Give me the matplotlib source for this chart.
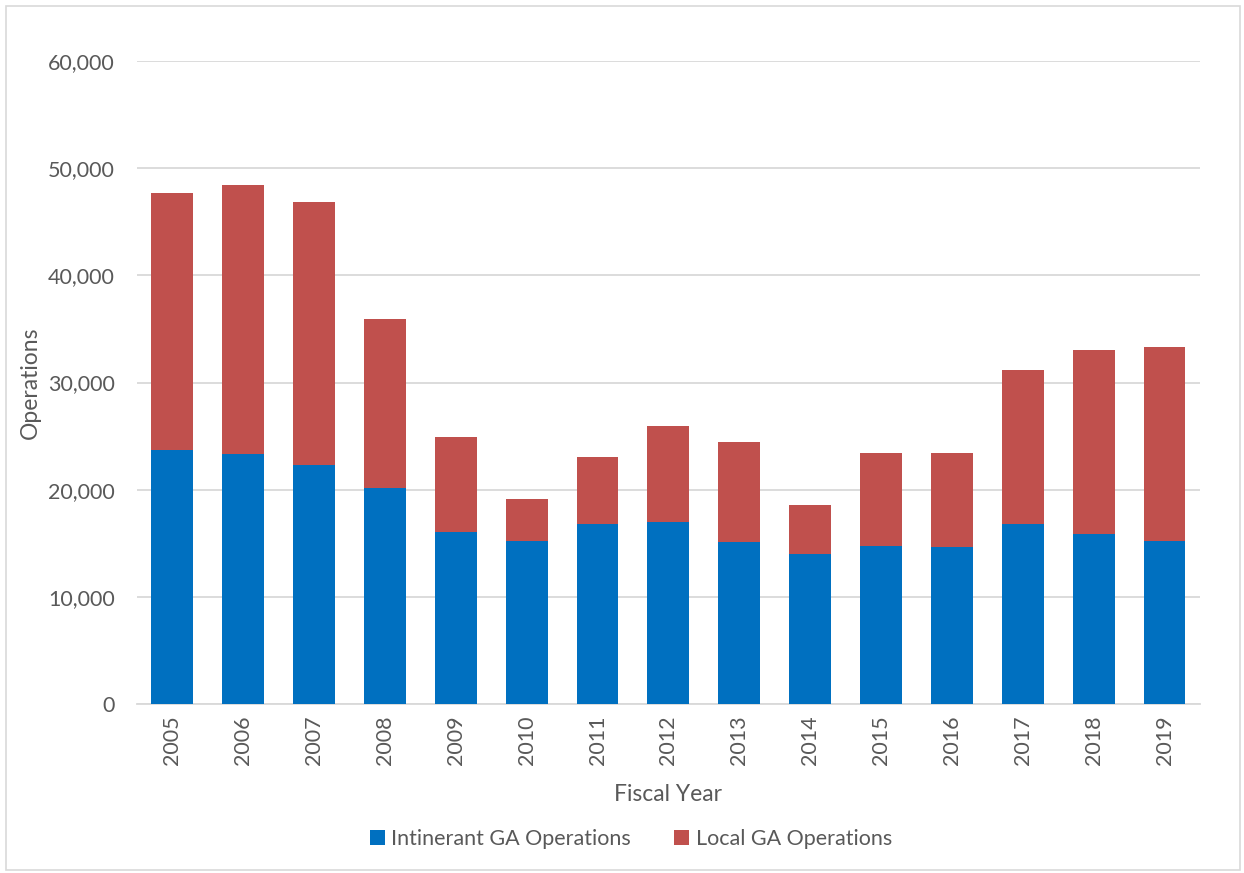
import matplotlib
matplotlib.use("Agg")
import matplotlib.pyplot as plt
from matplotlib.patches import Rectangle
from matplotlib.ticker import FuncFormatter

years = ["2005", "2006", "2007", "2008", "2009", "2010", "2011", "2012",
         "2013", "2014", "2015", "2016", "2017", "2018", "2019"]
itinerant = [23700, 23300, 22270, 20180, 16050, 15210, 16800, 17010,
             15150, 14030, 14770, 14650, 16830, 15830, 15210]
total = [47650, 48430, 46810, 35920, 24940, 19130, 23050, 25940,
         24420, 18540, 23420, 23420, 31140, 33030, 33280]
local = [t - i for t, i in zip(total, itinerant)]

BLUE = "#0070C0"
RED = "#C0504D"
TEXT = "#595959"
GRID = "#D9D9D9"

plt.rcParams["font.family"] = ["Lato", "DejaVu Sans"]

fig = plt.figure(figsize=(12.44, 8.73), dpi=100)
ax = fig.add_axes([0.110, 0.1936, 0.8546, 0.7364])

x = range(len(years))
ax.bar(x, itinerant, width=0.59, color=BLUE, label="Intinerant GA Operations", zorder=3)
ax.bar(x, local, width=0.59, bottom=itinerant, color=RED, label="Local GA Operations", zorder=3)

ax.set_ylim(0, 60000)
ax.set_xlim(-0.5, len(years) - 0.5)
ax.set_yticks(range(0, 60001, 10000))
ax.yaxis.set_major_formatter(FuncFormatter(lambda v, p: f"{int(v):,}"))
ax.set_xticks(list(x))
ax.set_xticklabels(years, rotation=90)
ax.tick_params(axis="both", length=0, labelsize=15.5, colors=TEXT)
ax.tick_params(axis="y", pad=16)
ax.tick_params(axis="x", pad=8)
ax.grid(axis="y", color=GRID, linewidth=1.3, zorder=0)
for s in ["top", "right", "left"]:
    ax.spines[s].set_visible(False)
ax.spines["bottom"].set_color(GRID)
ax.spines["bottom"].set_linewidth(1.3)

ax.set_ylabel("Operations", fontsize=16.5, color=TEXT, labelpad=5)
ax.set_xlabel("Fiscal Year", fontsize=16.5, color=TEXT, labelpad=14)

fig.legend(loc="center", bbox_to_anchor=(0.507, 0.0385), ncol=2, frameon=False,
           fontsize=15.5, labelcolor=TEXT, handlelength=0.7, handleheight=0.7,
           handletextpad=0.3, columnspacing=2.0)

fig.patches.append(Rectangle((0.005, 0.003), 0.992, 0.99, transform=fig.transFigure,
                             fill=False, edgecolor=GRID, linewidth=1.2))

fig.savefig("out.png", dpi=100, facecolor="white")
